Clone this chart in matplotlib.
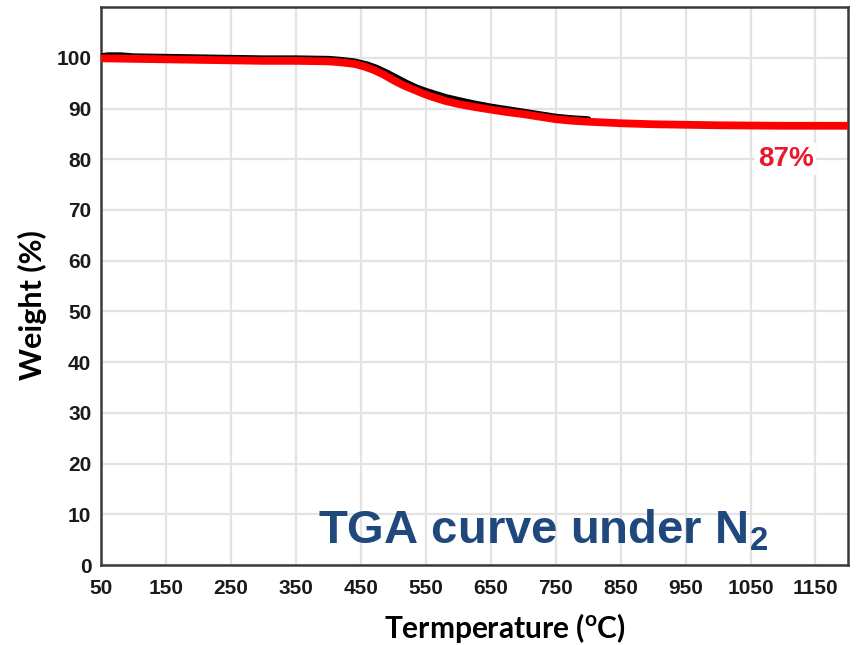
import matplotlib.pyplot as plt
import matplotlib.font_manager as fm

# TGA data (temperature in degC, weight in %)
temp_red = [50, 100, 150, 200, 250, 300, 350, 400, 420, 440, 455, 470, 485,
            500, 515, 530, 545, 560, 580, 600, 625, 650, 675, 700, 725, 750,
            775, 800, 850, 900, 950, 1000, 1100, 1200]
weight_red = [99.9, 99.8, 99.7, 99.6, 99.5, 99.4, 99.4, 99.3, 99.1, 98.8, 98.3,
              97.6, 96.7, 95.6, 94.6, 93.8, 93.0, 92.3, 91.5, 90.9, 90.3, 89.8,
              89.3, 88.9, 88.4, 87.9, 87.6, 87.4, 87.1, 86.9, 86.8, 86.7, 86.6,
              86.6]

temp_black = [50, 60, 80, 100, 150, 200, 250, 300, 350, 400, 420, 440, 460,
              475, 490, 505, 520, 535, 550, 565, 580, 600, 625, 650, 675, 700,
              725, 750, 775, 800]
weight_black = [100.2, 100.4, 100.4, 100.2, 100.1, 100.0, 99.9, 99.8, 99.8,
                99.7, 99.5, 99.2, 98.6, 97.9, 97.0, 96.0, 95.0, 94.1, 93.4,
                92.8, 92.2, 91.6, 90.9, 90.3, 89.8, 89.3, 88.8, 88.3, 88.0, 87.8]

x_ticks = list(range(50, 1151, 100))
y_ticks = list(range(0, 101, 10))
residue_label = "87%"

installed = {f.name for f in fm.fontManager.ttflist}
if "Liberation Sans Narrow" in installed:
    tick_font, tick_size = "Liberation Sans Narrow", 17
else:
    tick_font, tick_size = "Liberation Sans", 15

plt.rcParams["mathtext.default"] = "regular"

fig = plt.figure(figsize=(8.65, 6.45), dpi=100)
ax = fig.add_axes([0.1168, 0.124, 0.8635, 0.865])

ax.plot(temp_black, weight_black, color="black", lw=5.0,
        solid_capstyle="round", solid_joinstyle="round", zorder=3)
ax.plot(temp_red, weight_red, color="#ff0000", lw=5.6,
        solid_capstyle="round", solid_joinstyle="round", zorder=4)

ax.set_xlim(50, 1200)
ax.set_ylim(0, 110)
ax.set_xticks(x_ticks)
ax.set_yticks(y_ticks)
ax.grid(True, color="#e3e3e3", lw=1.6)
ax.set_axisbelow(True)
ax.tick_params(axis="x", length=0, pad=10, labelsize=tick_size)
ax.tick_params(axis="y", length=0, pad=7, labelsize=tick_size)
for lab in ax.get_xticklabels() + ax.get_yticklabels():
    lab.set_fontfamily(tick_font)
    lab.set_fontweight("bold")
    lab.set_color("#1a1a1a")
for sp in ax.spines.values():
    sp.set_color("#3a3a3a")
    sp.set_linewidth(1.8)

ax.set_xlabel("Termperature ($^o$C)", fontfamily="Lato", fontweight="bold",
              fontsize=21.5)
ax.xaxis.set_label_coords(0.541, -0.083)
ax.set_ylabel("Weight (%)", fontfamily="Lato", fontweight="bold", fontsize=22)
ax.yaxis.set_label_coords(-0.072, 0.466)

ax.text(1104, 80, residue_label, color="#e8192c", fontsize=20, fontweight="bold",
        fontfamily="Liberation Sans", ha="center", va="center", zorder=5,
        bbox=dict(facecolor="white", edgecolor="none", pad=2))

ax.text(384, 4.3, "TGA curve under N$_2$", color="#1f497d", fontsize=34,
        fontweight="bold", fontfamily="Liberation Sans", ha="left",
        va="baseline", zorder=5)

fig.savefig("out.png", dpi=100)
